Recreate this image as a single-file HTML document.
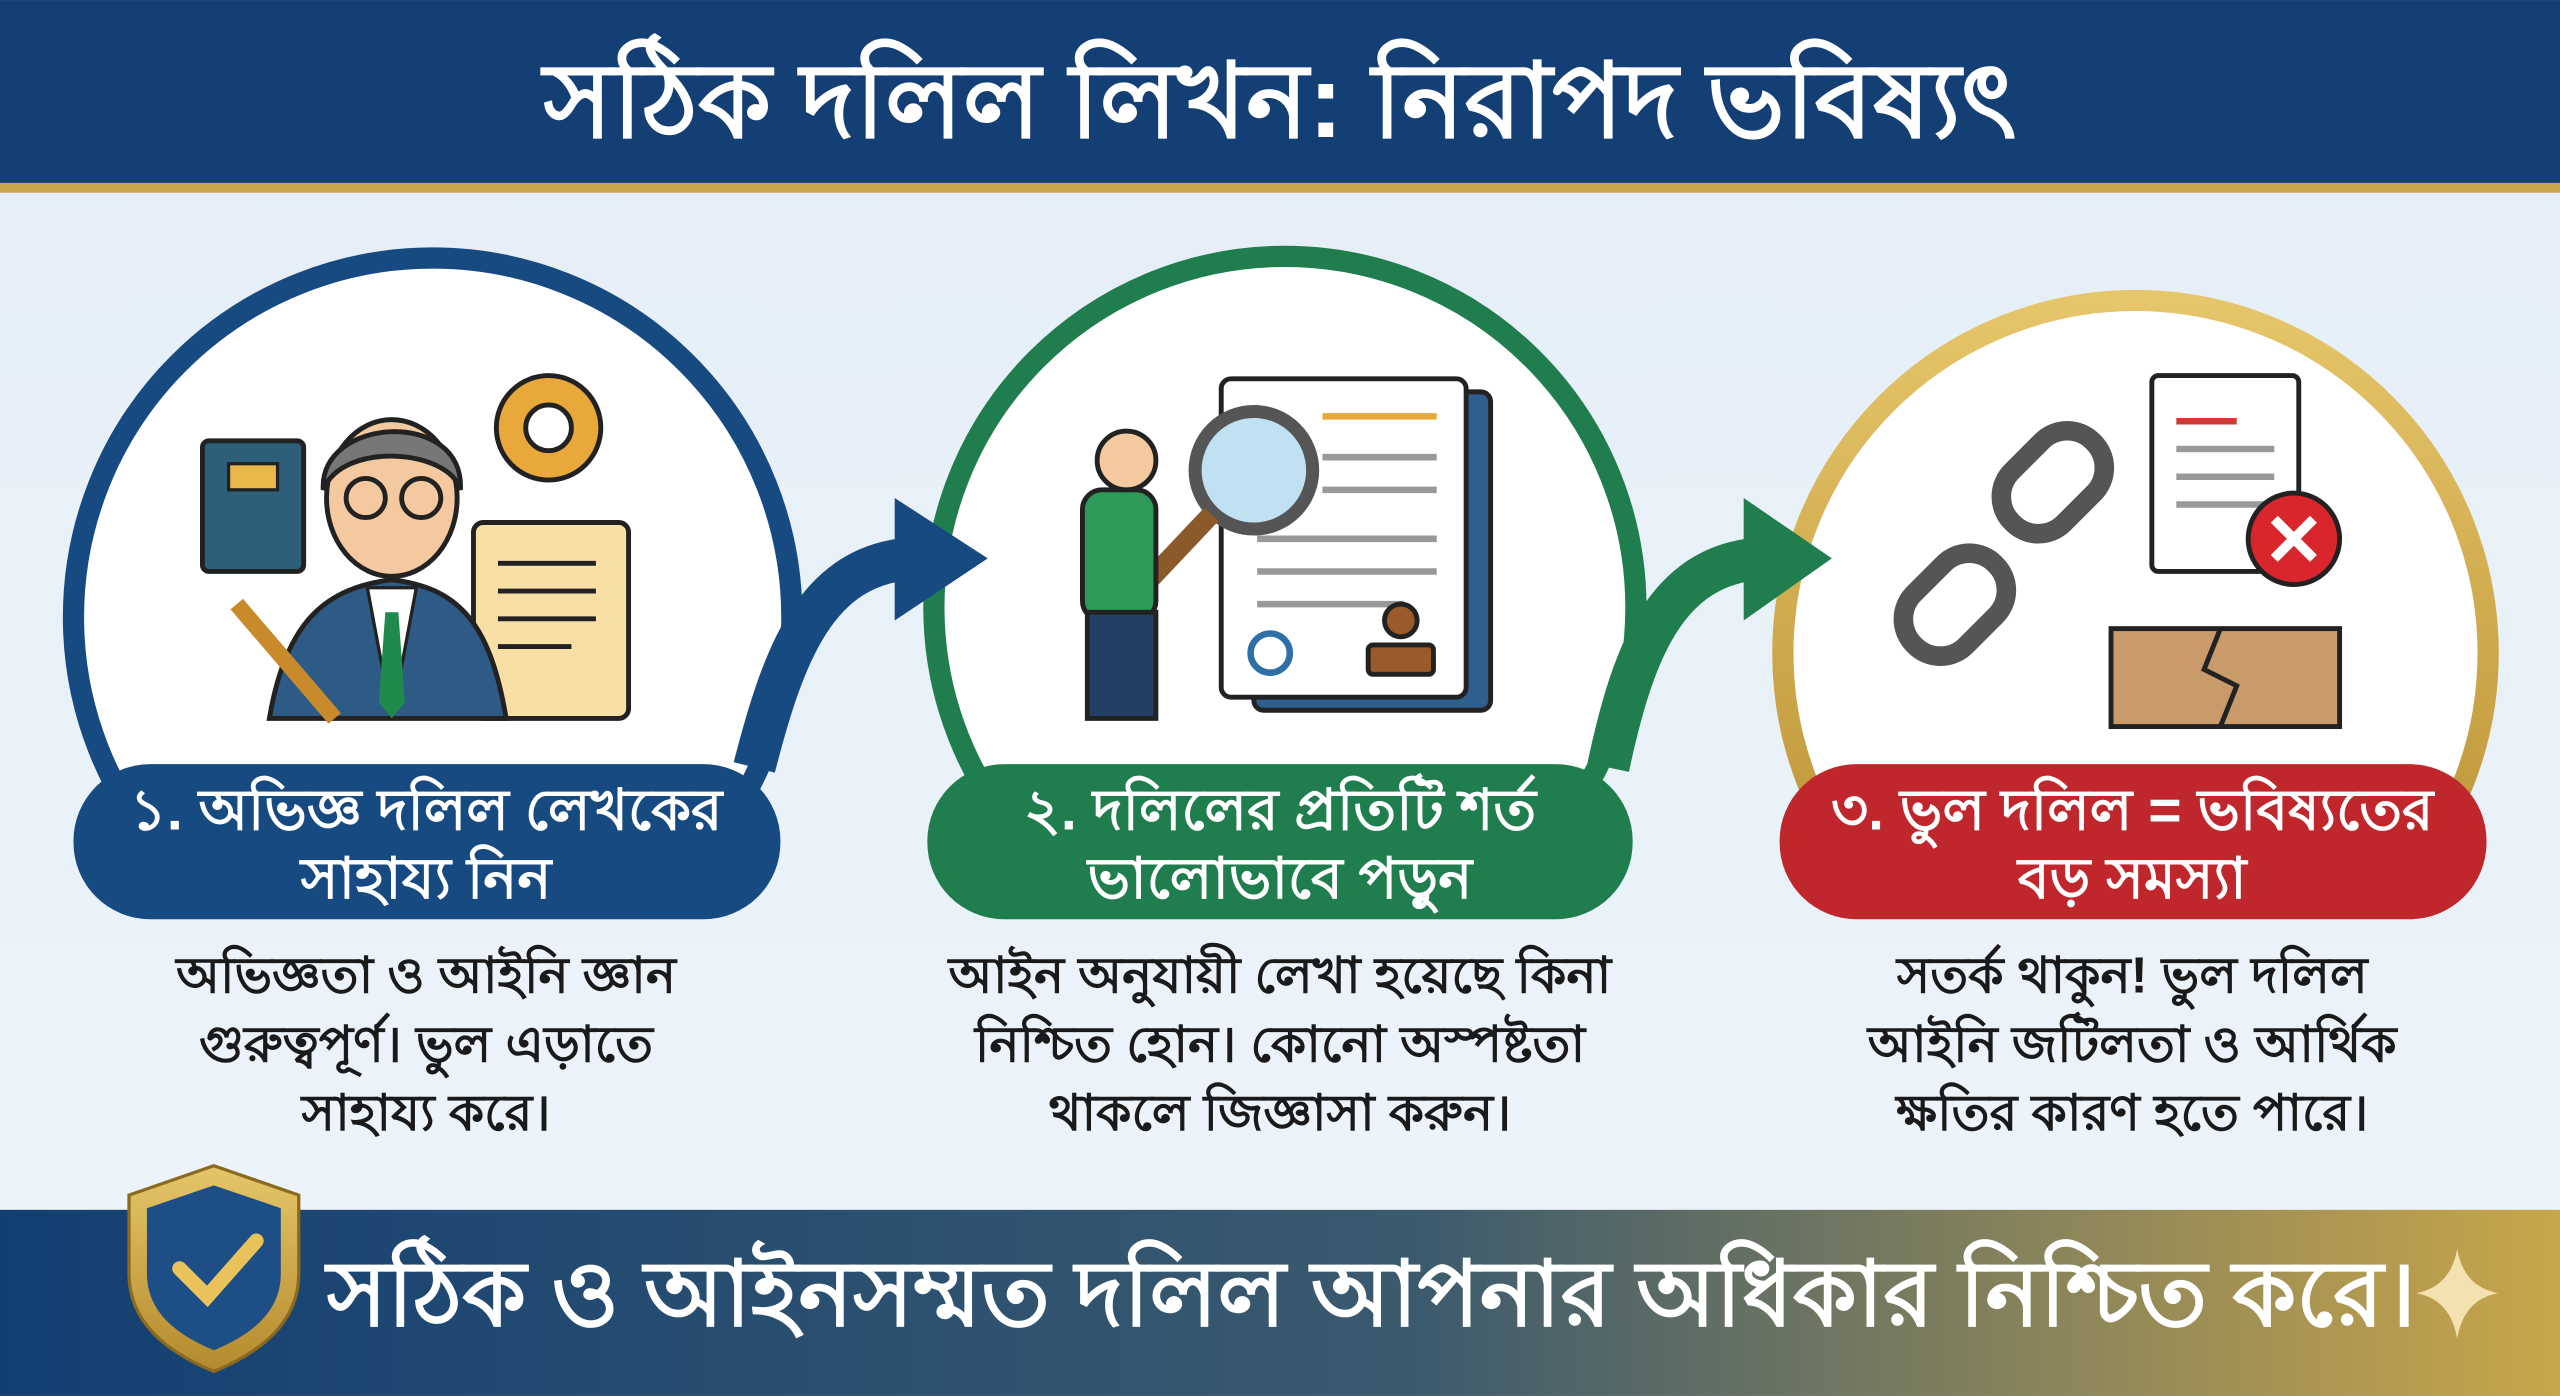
<!DOCTYPE html>
<html><head><meta charset="utf-8"><style>
html,body{margin:0;padding:0;width:2560px;height:1396px;overflow:hidden;background:#eaf2f8}
svg{display:block}
text{font-family:"Liberation Sans","Noto Sans CJK SC",sans-serif;font-weight:bold}
</style></head><body>
<svg width="2560" height="1396" viewBox="0 0 1568 855" xmlns="http://www.w3.org/2000/svg">
<defs>
<linearGradient id="bg" x1="0" y1="0" x2="0" y2="1"><stop offset="0" stop-color="#e4eef7"/><stop offset="1" stop-color="#eef4fa"/></linearGradient>
<linearGradient id="bot" x1="0" y1="0" x2="1" y2="0"><stop offset="0" stop-color="#123f73"/><stop offset="0.55" stop-color="#3b5a6e"/><stop offset="1" stop-color="#c9a64a"/></linearGradient>
<linearGradient id="gold" x1="0" y1="0" x2="0" y2="1"><stop offset="0" stop-color="#e6c66a"/><stop offset="1" stop-color="#b48a2c"/></linearGradient>
<clipPath id="top"><rect x="0" y="0" width="1568" height="500"/></clipPath>
</defs>
<rect width="1568" height="855" fill="url(#bg)"/>
<!-- header -->
<rect width="1568" height="113" fill="#143f74"/>
<rect y="112" width="1568" height="6" fill="#c9a54e"/>
<text x="784" y="84" font-size="64" fill="#fff" text-anchor="middle">সঠিক দলিল লিখন: নিরাপদ ভবিষ্যৎ</text>

<!-- circles -->
<g clip-path="url(#top)">
<circle cx="265" cy="378" r="220" fill="#fff" stroke="#174a80" stroke-width="13"/>
<circle cx="787" cy="372" r="215" fill="#fff" stroke="#1f7d4e" stroke-width="13"/>
<circle cx="1308" cy="400" r="216" fill="#fff" stroke="url(#gold)" stroke-width="13"/>
</g>

<!-- arrows -->
<path d="M462 470 C480 400 500 345 560 342" fill="none" stroke="#174a80" stroke-width="26"/>
<polygon points="548,305 605,342 548,380" fill="#174a80"/>
<path d="M985 470 C1000 400 1020 345 1080 342" fill="none" stroke="#1f7d4e" stroke-width="26"/>
<polygon points="1068,305 1122,342 1068,380" fill="#1f7d4e"/>

<!-- pills -->
<rect x="45" y="468" width="433" height="95" rx="47" fill="#174a80"/>
<text x="261" y="508" font-size="35" fill="#fff" text-anchor="middle">১. অভিজ্ঞ দলিল লেখকের</text>
<text x="261" y="550" font-size="35" fill="#fff" text-anchor="middle">সাহায্য নিন</text>
<rect x="568" y="468" width="432" height="95" rx="47" fill="#1f7d4e"/>
<text x="784" y="508" font-size="35" fill="#fff" text-anchor="middle">২. দলিলের প্রতিটি শর্ত</text>
<text x="784" y="550" font-size="35" fill="#fff" text-anchor="middle">ভালোভাবে পড়ুন</text>
<rect x="1090" y="468" width="433" height="95" rx="47" fill="#c0272d"/>
<text x="1306" y="508" font-size="35" fill="#fff" text-anchor="middle">৩. ভুল দলিল = ভবিষ্যতের</text>
<text x="1306" y="550" font-size="35" fill="#fff" text-anchor="middle">বড় সমস্যা</text>

<!-- descriptions -->
<g font-size="31" fill="#1a1a1a" text-anchor="middle">
<text x="261" y="608">অভিজ্ঞতা ও আইনি জ্ঞান</text>
<text x="261" y="650">গুরুত্বপূর্ণ। ভুল এড়াতে</text>
<text x="261" y="692">সাহায্য করে।</text>
<text x="784" y="608">আইন অনুযায়ী লেখা হয়েছে কিনা</text>
<text x="784" y="650">নিশ্চিত হোন। কোনো অস্পষ্টতা</text>
<text x="784" y="692">থাকলে জিজ্ঞাসা করুন।</text>
<text x="1306" y="608">সতর্ক থাকুন! ভুল দলিল</text>
<text x="1306" y="650">আইনি জটিলতা ও আর্থিক</text>
<text x="1306" y="692">ক্ষতির কারণ হতে পারে।</text>
</g>

<!-- icon 1: lawyer -->
<rect x="124" y="270" width="62" height="80" rx="4" fill="#2d5f7a" stroke="#222" stroke-width="3"/>
<rect x="140" y="284" width="30" height="16" fill="#e9b84a" stroke="#222" stroke-width="2"/>
<circle cx="336" cy="262" r="32" fill="#e9a93a" stroke="#222" stroke-width="3"/>
<circle cx="336" cy="262" r="14" fill="#fff" stroke="#222" stroke-width="3"/>
<rect x="290" y="320" width="95" height="120" rx="6" fill="#f7dfa5" stroke="#222" stroke-width="3"/>
<g stroke="#222" stroke-width="3"><line x1="305" y1="345" x2="365" y2="345"/><line x1="305" y1="362" x2="365" y2="362"/><line x1="305" y1="379" x2="365" y2="379"/><line x1="305" y1="396" x2="350" y2="396"/></g>
<path d="M165 440 C175 380 200 360 240 355 C280 360 300 380 310 440 Z" fill="#2e5b86" stroke="#222" stroke-width="3"/>
<polygon points="225,360 240,440 255,360" fill="#fff" stroke="#222" stroke-width="2"/>
<polygon points="236,375 244,375 248,430 240,440 232,430" fill="#1f8a4c"/>
<ellipse cx="240" cy="305" rx="40" ry="48" fill="#f5c9a0" stroke="#222" stroke-width="3"/>
<path d="M198 300 C195 255 285 250 282 300 C275 275 210 270 198 300 Z" fill="#777" stroke="#222" stroke-width="3"/>
<circle cx="224" cy="305" r="12" fill="none" stroke="#222" stroke-width="3"/>
<circle cx="258" cy="305" r="12" fill="none" stroke="#222" stroke-width="3"/>
<line x1="145" y1="370" x2="205" y2="440" stroke="#c88a2a" stroke-width="10"/>

<!-- icon 2: document + magnifier -->
<rect x="768" y="240" width="145" height="195" rx="6" fill="#2e5f8f" stroke="#222" stroke-width="3"/>
<rect x="748" y="232" width="150" height="195" rx="6" fill="#fff" stroke="#222" stroke-width="3"/>
<g stroke="#999" stroke-width="4"><line x1="810" y1="255" x2="880" y2="255" stroke="#e9a93a"/><line x1="810" y1="280" x2="880" y2="280"/><line x1="810" y1="300" x2="880" y2="300"/><line x1="770" y1="330" x2="880" y2="330"/><line x1="770" y1="350" x2="880" y2="350"/><line x1="770" y1="370" x2="860" y2="370"/></g>
<circle cx="778" cy="400" r="12" fill="none" stroke="#2e6fa8" stroke-width="4"/>
<rect x="838" y="395" width="40" height="18" rx="3" fill="#9a5a2a" stroke="#222" stroke-width="3"/>
<circle cx="858" cy="380" r="10" fill="#9a5a2a" stroke="#222" stroke-width="3"/>
<circle cx="768" cy="288" r="36" fill="#bfe1f2" stroke="#555" stroke-width="8"/>
<line x1="742" y1="315" x2="690" y2="370" stroke="#8a5a2a" stroke-width="12"/>
<rect x="663" y="300" width="45" height="80" rx="12" fill="#2d9a5a" stroke="#222" stroke-width="3"/>
<circle cx="690" cy="282" r="18" fill="#f5c9a0" stroke="#222" stroke-width="3"/>
<rect x="666" y="375" width="42" height="65" fill="#233f66" stroke="#222" stroke-width="3"/>

<!-- icon 3: broken chain + doc -->
<g fill="none" stroke="#555" stroke-width="12">
<rect x="1175" y="335" width="45" height="70" rx="22" transform="rotate(45 1197 370)"/>
<rect x="1235" y="260" width="45" height="70" rx="22" transform="rotate(45 1257 295)"/>
</g>
<rect x="1318" y="230" width="90" height="120" rx="4" fill="#fff" stroke="#222" stroke-width="3"/>
<g stroke="#999" stroke-width="4"><line x1="1333" y1="258" x2="1370" y2="258" stroke="#d33"/><line x1="1333" y1="275" x2="1393" y2="275"/><line x1="1333" y1="292" x2="1393" y2="292"/><line x1="1333" y1="309" x2="1393" y2="309"/></g>
<circle cx="1405" cy="330" r="28" fill="#d9262c" stroke="#222" stroke-width="3"/>
<path d="M1393 318 L1417 342 M1417 318 L1393 342" stroke="#fff" stroke-width="6"/>
<rect x="1293" y="385" width="140" height="60" fill="#c99a6a" stroke="#222" stroke-width="3"/>
<path d="M1360 385 L1350 410 L1370 420 L1360 445" fill="none" stroke="#222" stroke-width="3"/>

<!-- bottom band -->
<rect y="741" width="1568" height="114" fill="url(#bot)"/>
<path d="M131 714 L183 732 L183 780 C183 810 160 828 131 840 C102 828 79 810 79 780 L79 732 Z" fill="url(#gold)" stroke="#8a6a1f" stroke-width="2"/>
<path d="M131 726 L172 740 L172 780 C172 803 155 817 131 827 C107 817 90 803 90 780 L90 740 Z" fill="#1d4f86"/>
<path d="M110 777 L127 794 L157 760" fill="none" stroke="#e9c35a" stroke-width="9" stroke-linecap="round"/>
<text x="840" y="812" font-size="56" fill="#fff" text-anchor="middle">সঠিক ও আইনসম্মত দলিল আপনার অধিকার নিশ্চিত করে।</text>
<path d="M1505 765 Q1509 788 1530 792 Q1509 796 1505 820 Q1501 796 1480 792 Q1501 788 1505 765 Z" fill="#f3e2b0"/>
</svg>
</body></html>
